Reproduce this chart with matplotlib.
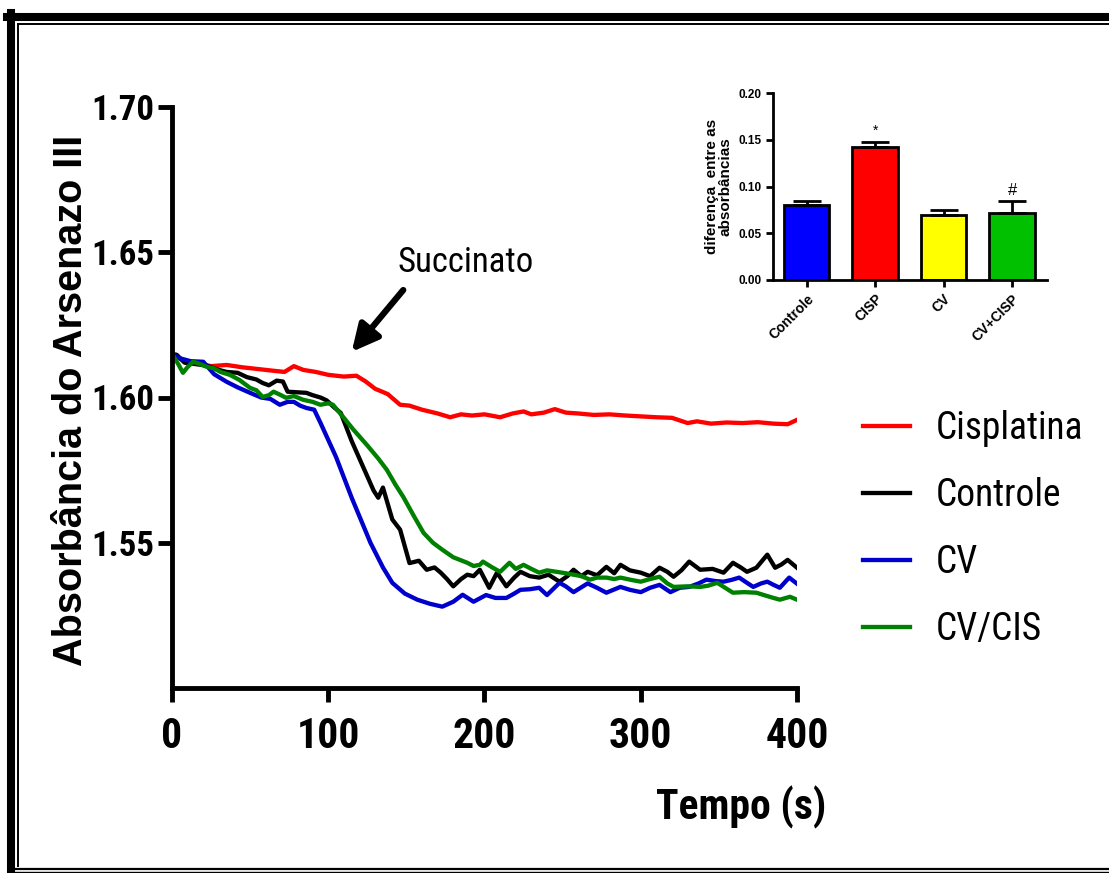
"""
Absorbância do Arsenazo III vs tempo, com inset de barras.
"""

import matplotlib
matplotlib.use("Agg")
import matplotlib.pyplot as plt
from matplotlib import font_manager
from matplotlib.lines import Line2D

# ---------------- data ----------------
t_cis = [0, 8, 15, 25, 35, 45, 55, 65, 72, 78, 84, 92, 100, 110, 118, 124, 130, 138, 146,
         152, 160, 170, 178, 185, 192, 200, 210, 218, 225, 230, 238, 245, 252, 260, 270,
         280, 290, 300, 310, 320, 330, 336, 345, 355, 365, 375, 385, 394, 400]
v_cis = [1.615, 1.6125, 1.6118, 1.6108, 1.6112, 1.6104, 1.6098, 1.6092, 1.6088, 1.6108,
         1.6095, 1.6088, 1.6078, 1.6072, 1.6075, 1.6055, 1.603, 1.6012, 1.5975, 1.5972,
         1.5958, 1.5945, 1.5932, 1.5942, 1.5938, 1.5942, 1.5932, 1.5945, 1.5952, 1.5942,
         1.5948, 1.5960, 1.5948, 1.5945, 1.5940, 1.5942, 1.5938, 1.5935, 1.5932, 1.5930,
         1.5912, 1.5918, 1.5910, 1.5914, 1.5912, 1.5915, 1.5910, 1.5908, 1.5923]

t_ctl = [0, 3, 8, 15, 22, 30, 35, 42, 48, 54, 58, 62, 67, 71, 74, 80, 86, 90, 95, 99, 104,
         108, 115, 122, 129, 132, 135, 141, 146, 152, 158, 163, 168, 172, 176, 180, 185,
         189, 193, 197, 203, 208, 214, 219, 223, 229, 235, 241, 248, 253, 257, 262, 266,
         272, 278, 283, 287, 293, 300, 306, 312, 317, 321, 326, 331, 338, 346, 353, 359,
         364, 368, 374, 381, 386, 390, 394, 400]
v_ctl = [1.615, 1.6147, 1.612, 1.6115, 1.611, 1.6095, 1.6088, 1.6085, 1.607, 1.6062, 1.605,
         1.6042, 1.6058, 1.6055, 1.602, 1.6018, 1.6016, 1.6008, 1.600, 1.599, 1.5965,
         1.5947, 1.585, 1.5765, 1.568, 1.5655, 1.569, 1.558, 1.5545, 1.543, 1.5438, 1.5407,
         1.5415, 1.5397, 1.5375, 1.535, 1.5375, 1.539, 1.5385, 1.5407, 1.5345, 1.5397,
         1.535, 1.538, 1.540, 1.5385, 1.538, 1.539, 1.5366, 1.5385, 1.5407, 1.5385, 1.540,
         1.5388, 1.5417, 1.5395, 1.5424, 1.5405, 1.5397, 1.5385, 1.5414, 1.540, 1.5383,
         1.5405, 1.5435, 1.5407, 1.541, 1.5397, 1.5431, 1.5415, 1.540, 1.5414, 1.5459,
         1.5414, 1.5425, 1.5441, 1.5414]

t_cv = [0, 5, 12, 20, 27, 35, 42, 50, 57, 63, 69, 74, 78, 82, 86, 91, 95, 105, 115, 127,
        135, 141, 149, 157, 165, 173, 180, 186, 193, 201, 207, 214, 219, 223, 229, 235, 240,
        248, 252, 257, 266, 272, 278, 287, 293, 300, 306, 312, 319, 325, 331, 337, 342, 348,
        353, 358, 363, 368, 372, 377, 381, 385, 389, 395, 400]
v_cv = [1.615, 1.6135, 1.6125, 1.6123, 1.608, 1.6054, 1.6035, 1.6016, 1.600, 1.5995, 1.5975,
        1.5985, 1.5985, 1.5972, 1.5964, 1.5958, 1.5913, 1.5795, 1.5655, 1.550, 1.5415,
        1.5362, 1.5325, 1.5304, 1.529, 1.528, 1.5297, 1.5321, 1.5297, 1.532, 1.531, 1.531,
        1.5325, 1.5338, 1.534, 1.5345, 1.532, 1.5362, 1.535, 1.533, 1.536, 1.5345, 1.5328,
        1.5348, 1.5338, 1.533, 1.5345, 1.5355, 1.533, 1.5345, 1.5348, 1.536, 1.5373,
        1.5368, 1.5366, 1.5372, 1.538, 1.5362, 1.5348, 1.536, 1.5366, 1.5355, 1.5345,
        1.538, 1.5359]

t_cvcis = [0, 4, 7, 10, 13.5, 18, 22, 27, 31, 37, 43, 50, 54, 58, 62, 65, 69, 73, 78, 84,
           90, 95, 100, 103, 110, 116, 125, 132, 137.5, 143, 148, 155, 161, 167, 173, 180,
           189, 193, 197, 199, 205, 210, 216, 220, 225, 230, 235, 240, 246, 252, 257, 262,
           267.5, 272, 278, 283, 287, 294, 300, 306, 312, 317, 321, 330, 338, 343, 349, 354,
           359, 366, 374, 380, 385, 389, 395.5, 400]
v_cvcis = [1.615, 1.6115, 1.6085, 1.6105, 1.6123, 1.6115, 1.6106, 1.610, 1.6088, 1.6078,
           1.6061, 1.6033, 1.6025, 1.6002, 1.6008, 1.602, 1.601, 1.5999, 1.6005, 1.5992,
           1.5985, 1.5975, 1.598, 1.5975, 1.593, 1.589, 1.5835, 1.579, 1.5751, 1.570, 1.5658,
           1.559, 1.5534, 1.550, 1.5476, 1.545, 1.5431, 1.542, 1.5424, 1.5435, 1.5415, 1.540,
           1.5431, 1.541, 1.5424, 1.541, 1.5397, 1.5405, 1.540, 1.5395, 1.539, 1.5385,
           1.5373, 1.538, 1.538, 1.5375, 1.538, 1.5372, 1.5366, 1.5375, 1.5383, 1.536,
           1.5348, 1.535, 1.5348, 1.5352, 1.5362, 1.5345, 1.5328, 1.533, 1.5328, 1.5318,
           1.531, 1.5304, 1.5314, 1.5304]

series_labels = ["Cisplatina", "Controle", "CV", "CV/CIS"]
series_colors = ["#ff0000", "#000000", "#0000cc", "#008000"]

bar_groups = ["Controle", "CISP", "CV", "CV+CISP"]
bar_values = [0.080, 0.142, 0.070, 0.072]
bar_errors = [0.004, 0.006, 0.005, 0.012]
bar_colors = ["#0000ff", "#ff0000", "#ffff00", "#00c000"]
bar_marks = ["", "*", "", "#"]

# ---------------- fonts ----------------
names = {f.name for f in font_manager.fontManager.ttflist}
NARROW = next((n for n in ["Roboto Condensed", "Archivo Narrow", "PT Sans Narrow",
                           "Barlow Semi Condensed"] if n in names), "Liberation Sans")
plt.rcParams["font.family"] = ["Liberation Sans", "DejaVu Sans"]

W, H = 1109, 873
fig = plt.figure(figsize=(W / 100, H / 100), dpi=100)


def fx(px):
    return px / W


def fy(py):
    return 1 - py / H


# ---------------- main axes ----------------
ax = fig.add_axes([fx(172), fy(688), fx(797) - fx(172), fy(107) - fy(688)])
series = [(t_cis, v_cis), (t_ctl, v_ctl), (t_cv, v_cv), (t_cvcis, v_cvcis)]
for (t, v), lab, col in zip(series, series_labels, series_colors):
    ax.plot(t, v, color=col, lw=3.1, label=lab, solid_joinstyle="round")

ax.set_xlim(0, 400)
ax.set_ylim(1.50, 1.70)
ax.set_xticks([0, 100, 200, 300, 400])
ax.set_yticks([1.55, 1.60, 1.65, 1.70])
ax.set_yticklabels([f"{v:.2f}" for v in [1.55, 1.60, 1.65, 1.70]])
for s in ["top", "right"]:
    ax.spines[s].set_visible(False)
for s in ["left", "bottom"]:
    ax.spines[s].set_linewidth(3.5)
ax.tick_params(width=3.5, length=10, direction="out")
ax.tick_params(axis="y", pad=3, labelsize=25)
ax.tick_params(axis="x", pad=10, labelsize=30)
for lbl in ax.get_xticklabels() + ax.get_yticklabels():
    lbl.set_fontfamily(NARROW)
    lbl.set_fontweight("bold")

ax.set_xlabel("Tempo (s)", fontfamily=NARROW, fontweight="bold", fontsize=30)
ax.xaxis.label.set_va("center")
ax.xaxis.set_label_coords((741 - 172) / 625, -(807 - 688) / 581)

fig.text(fx(71), fy(400), "Absorbância do Arsenazo III", rotation=90, ha="center",
         va="center", fontsize=28.5, fontweight="bold")

# arrow "Succinato"
ax.annotate("", xy=(115, 1.6157), xytext=(148, 1.637),
            arrowprops=dict(arrowstyle="-|>", lw=4.5, color="black",
                            mutation_scale=40, capstyle="round", shrinkA=0, shrinkB=0))
ax.text(188, 1.6463, "Succinato", ha="center", va="center", fontsize=25,
        fontfamily=NARROW)

fig.legend(*ax.get_legend_handles_labels(), loc="center left",
           bbox_to_anchor=(fx(863), fy(529)), frameon=False, borderpad=0,
           borderaxespad=0, handlelength=1.25, handletextpad=0.68, labelspacing=0.8,
           prop={"family": NARROW, "size": 27})

# ---------------- inset ----------------
ins = fig.add_axes([fx(773), fy(280), fx(1047) - fx(773), fy(93) - fy(280)])
pos = list(range(len(bar_groups)))
ins.bar(pos, bar_values, width=0.66, color=bar_colors, edgecolor="black", linewidth=2,
        zorder=2)
ins.errorbar(pos, bar_values, yerr=[[0] * len(bar_errors), bar_errors], fmt="none",
             ecolor="black", elinewidth=2, capsize=10, capthick=2, zorder=3)
for p, v, e, m in zip(pos, bar_values, bar_errors, bar_marks):
    if m:
        ins.text(p, v + e + 0.004, m, ha="center", va="bottom",
                 fontsize=10 if m == "*" else 12)
ins.set_xlim(-0.49, 3.51)
ins.set_ylim(0, 0.20)
ins.set_yticks([0, 0.05, 0.10, 0.15, 0.20])
ins.set_yticklabels([f"{v:.2f}" for v in [0, 0.05, 0.10, 0.15, 0.20]],
                    fontsize=8.5, fontweight="bold")
ins.set_xticks(pos)
ins.set_xticklabels(bar_groups, rotation=45, ha="right", rotation_mode="anchor",
                    fontsize=10, fontweight="bold")
for s in ["top", "right"]:
    ins.spines[s].set_visible(False)
for s in ["left", "bottom"]:
    ins.spines[s].set_linewidth(2)
ins.tick_params(width=2, length=5)
ins.set_ylabel("diferença  entre as\nabsorbâncias", fontsize=11, fontweight="bold",
               linespacing=0.95, labelpad=4)

# ---------------- frame ----------------
frame = [
    ((fx(11), fx(11)), (fy(13), fy(873)), 5.8),
    ((fx(7), fx(1109)), (fy(17), fy(17)), 5.8),
    ((fx(18), fx(18)), (fy(24), fy(866)), 1.4),
    ((fx(18), fx(1109)), (fy(24), fy(24)), 1.4),
    ((fx(15), fx(1109)), (fy(869), fy(869)), 1.6),
    ((fx(15), fx(1109)), (fy(872), fy(872)), 1.0),
]
for xs, ys, lw in frame:
    fig.add_artist(Line2D(xs, ys, color="black", lw=lw, transform=fig.transFigure))

fig.savefig("out.png", dpi=100)
